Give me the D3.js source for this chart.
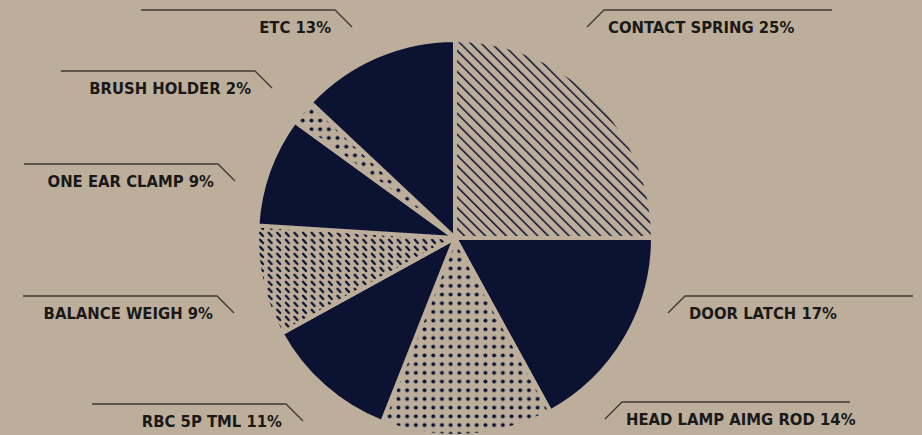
<!DOCTYPE html>
<html>
<head>
<meta charset="utf-8">
<script src="https://d3js.org/d3.v7.min.js"></script>
<style>
  html, body { margin: 0; padding: 0; background: #bdae9c; overflow: hidden; }
  .lbl { font-family: "DejaVu Sans Condensed", "DejaVu Sans", sans-serif; font-size: 16.5px; font-weight: bold; fill: #1a1917; }
</style>
</head>
<body>
<div id="chart"></div>
<script>
// data
var parts = ["CONTACT SPRING", "DOOR LATCH", "HEAD LAMP AIMG ROD", "RBC 5P TML",
  "BALANCE WEIGH", "ONE EAR CLAMP", "BRUSH HOLDER", "ETC"];
var shares = [25, 17, 14, 11, 9, 9, 2, 13];
var fills = ["hatch", "solid", "dots", "solid", "dash", "solid", "dots", "solid"];

// label placement (tip of leader line, side)
var labelTips = [[587, 27, "r"], [668, 313, "r"], [605, 419, "r"], [303, 421, "l"],
  [234, 313, "l"], [235, 181, "l"], [272, 88, "l"], [352, 27, "l"]];

var svgWidth = 922;
var svgHeight = 435;
var navy = "#0c1332";
var bg = "#bdae9c";
var cx = 455, cy = 238, radius = 198;

var svg = d3.select("#chart")
  .append("svg")
  .attr("width", svgWidth)
  .attr("height", svgHeight);

svg.append("rect")
  .attr("width", svgWidth)
  .attr("height", svgHeight)
  .attr("fill", bg);

var defs = svg.append("defs");

// diagonal hatch (top-left to bottom-right)
var hatch = defs.append("pattern")
  .attr("id", "hatch")
  .attr("patternUnits", "userSpaceOnUse")
  .attr("width", 7.4)
  .attr("height", 7.4)
  .attr("patternTransform", "rotate(-45)");
hatch.append("rect").attr("width", 7.4).attr("height", 7.4).attr("fill", bg);
hatch.append("line")
  .attr("x1", 0).attr("y1", 0).attr("x2", 0).attr("y2", 7.4)
  .attr("stroke", navy).attr("stroke-width", 3);

// dot grid
var dots = defs.append("pattern")
  .attr("id", "dots")
  .attr("patternUnits", "userSpaceOnUse")
  .attr("width", 8.7)
  .attr("height", 8.7);
dots.append("rect").attr("width", 8.7).attr("height", 8.7).attr("fill", bg);
dots.append("circle")
  .attr("cx", 4.35).attr("cy", 4.35).attr("r", 2)
  .attr("fill", navy);

// short dashes on a lattice
var dash = defs.append("pattern")
  .attr("id", "dash")
  .attr("patternUnits", "userSpaceOnUse")
  .attr("width", 8.6)
  .attr("height", 7);
dash.append("rect").attr("width", 8.6).attr("height", 7).attr("fill", bg);
dash.append("line")
  .attr("x1", 2.8).attr("y1", 1.7)
  .attr("x2", 5.8).attr("y2", 5.1)
  .attr("stroke", navy).attr("stroke-width", 2.2).attr("stroke-linecap", "round");

var pie = d3.pie().sort(null).value(function(d) { return d; });
var arc = d3.arc().innerRadius(0).outerRadius(radius);

var pieGroup = svg.append("g")
  .attr("transform", `translate(${cx}, ${cy})`);

pieGroup.selectAll("path")
  .data(pie(shares))
  .enter()
  .append("path")
  .attr("d", arc)
  .attr("fill", function(d, i) { return fills[i] === "solid" ? navy : "url(#" + fills[i] + ")"; })
  .attr("stroke", bg)
  .attr("stroke-width", 4)
  .attr("stroke-linejoin", "round");

// labels with leader lines
var lineLenL = 194, lineLenR = 228, tick = 17;

var labels = svg.append("g");

parts.forEach(function(name, i) {
  var t = labelTips[i];
  var tx = t[0], ty = t[1];
  var hy = ty - tick;
  var pts;
  if (t[2] === "l") {
    pts = [[tx - tick - lineLenL, hy], [tx - tick, hy], [tx, ty]];
  } else {
    pts = [[tx, ty], [tx + tick, hy], [tx + tick + lineLenR, hy]];
  }
  labels.append("path")
    .attr("d", d3.line()(pts))
    .attr("fill", "none")
    .attr("stroke", "#3e3a36")
    .attr("stroke-width", 1.4);

  labels.append("text")
    .attr("class", "lbl")
    .attr("x", t[2] === "l" ? tx - tick - 4 : tx + tick + 4)
    .attr("y", hy + 23)
    .attr("text-anchor", t[2] === "l" ? "end" : "start")
    .text(name + " " + shares[i] + "%");
});
</script>
</body>
</html>
